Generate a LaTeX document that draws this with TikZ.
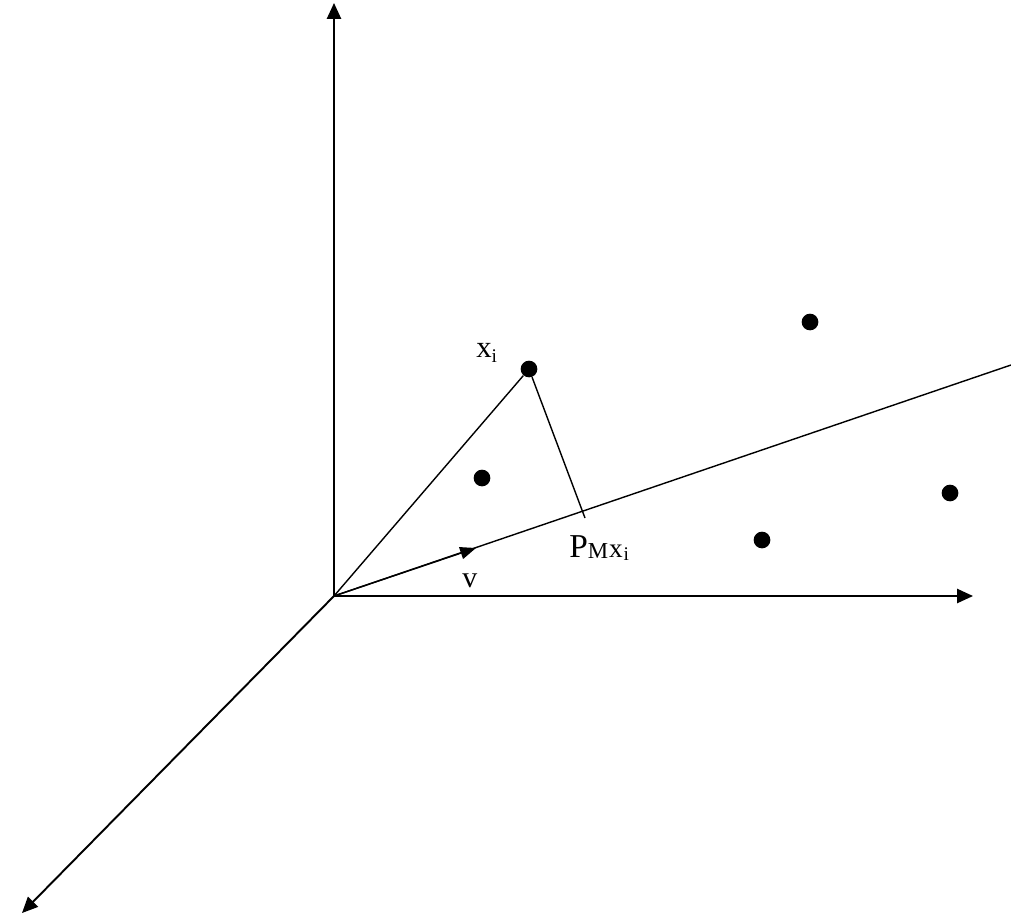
\documentclass[tikz,border=0pt]{standalone}
\usepackage{fontspec}
\setmainfont{Liberation Serif}
\usepackage{tikz}
\usetikzlibrary{arrows.meta,positioning,calc}

\newcommand{\fsz}[2]{{\fontsize{#1}{#1}\selectfont #2}}

\begin{document}
\begin{tikzpicture}[x=0.02cm,y=-0.02cm,
            axis/.style={line width=1.1pt, -{Triangle[length=9pt,width=8pt]}},
            plain/.style={line width=0.8pt},
            datapt/.style={circle, fill=black, inner sep=0pt, minimum size=9.5pt},
            lbl/.style={inner sep=0pt, anchor=base west}]
            \useasboundingbox (0,0) rectangle (1011,923);
            
            % Axes
            \coordinate (origin) at (334,596);
            \coordinate (yTop) at (334,3);
            \coordinate (xEnd) at (973,596);
            \coordinate (zEnd) at (22,913);
            \coordinate (mEnd) at (1011,365);
            \draw[axis] (origin) -- (yTop);
            \draw[axis] (origin) -- (xEnd);
            \draw[axis] (origin) -- (zEnd);
            
            % Subspace M and direction v
            \draw[plain] (origin) -- (mEnd);
            \coordinate (vTip) at (476,548);
            \draw[plain, -{Triangle[length=9pt,width=7pt]}] (origin) -- (vTip);
            
            % Data points
            \node[datapt] (xi) at (529,369) {};
            \node[datapt] (p2) at (482,478) {};
            \node[datapt] (p3) at (810,322) {};
            \node[datapt] (p4) at (950,493) {};
            \node[datapt] (p5) at (762,540) {};
            
            % Projection of x_i
            \coordinate (foot) at (585,518);
            \draw[plain] (origin) -- (xi);
            \draw[plain] (xi) -- (foot);
            
            % Labels
            \node[lbl] (xiLabel) at (476,357) {\fsz{17.5}{x}\raisebox{-3pt}{\fsz{11}{i}}};
            \node[lbl] (pmLabel) at (569,557) {\fsz{19}{P}\raisebox{-1pt}{\fsz{13}{M}}\kern0.5pt\fsz{15.5}{x}\kern0.5pt\raisebox{-2pt}{\fsz{11}{i}}};
            \node[lbl] (vLabel) at (462,587) {\fsz{17}{v}};
        \end{tikzpicture}
\end{document}
